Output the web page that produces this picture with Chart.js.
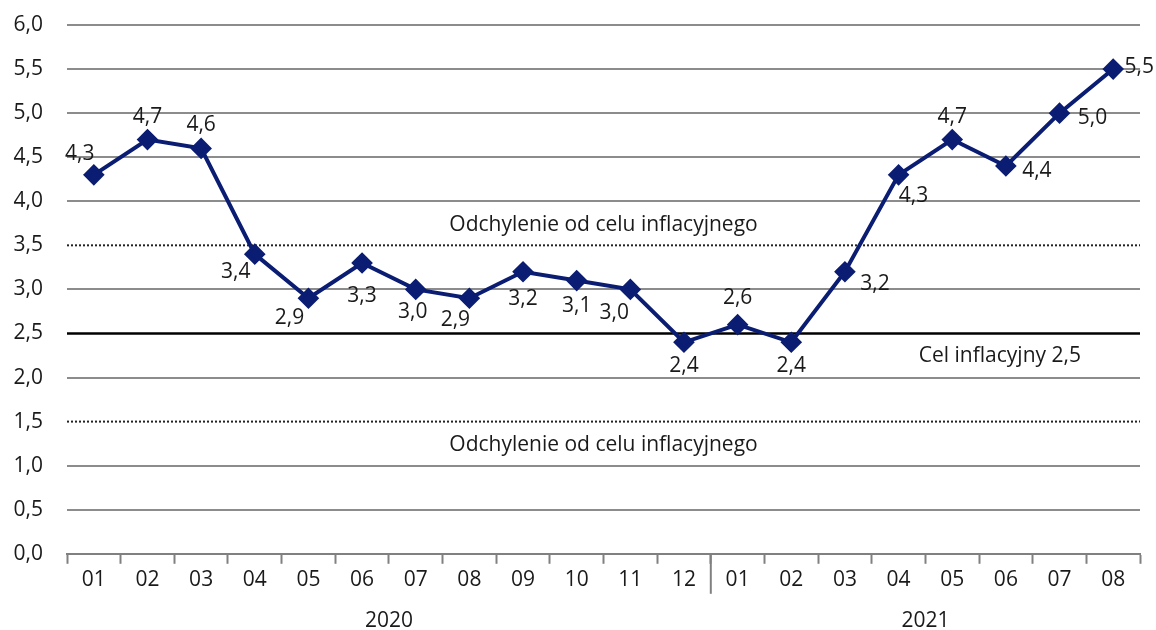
<!DOCTYPE html>
<html>
<head>
<meta charset="utf-8">
<script src="https://cdn.jsdelivr.net/npm/chart.js@4.4.1/dist/chart.umd.min.js"></script>
<style>
  html, body { margin: 0; padding: 0; background: #fff; }
  #wrap { width: 1156px; height: 630px; }
</style>
</head>
<body>
<div id="wrap"><canvas id="cpiChart" width="1156" height="630"></canvas></div>
<script>
// Dane: inflacja CPI r/r (%)
const months = ['01','02','03','04','05','06','07','08','09','10','11','12','01','02','03','04','05','06','07','08'];
const years = ['2020', '2021'];
const monthsPerYear = [12, 8];
const cpi = [4.3, 4.7, 4.6, 3.4, 2.9, 3.3, 3.0, 2.9, 3.2, 3.1, 3.0, 2.4, 2.6, 2.4, 3.2, 4.3, 4.7, 4.4, 5.0, 5.5];
const target = 2.5;
const bandLow = 1.5;
const bandHigh = 3.5;
const bandText = 'Odchylenie od celu inflacyjnego';
const targetText = 'Cel inflacyjny 2,5';

// przesuniecie etykiet wzgledem punktow (px)
const labelDx = [-14, 0, 0, -19, -19, 0, -3, -14, 0, 0, -16, 0, 0, 0, 30, 15, 0, 31, 33, 26];
const labelDy = [-21, -23, -23, 18, 20, 33, 23, 22, 27, 25, 24, 24, -27, 24, 12, 21, -23, 5, 5, -2];

const FONT = '"Open Sans", "Noto Sans", sans-serif';
const FSIZE = 21;
const TXT = '#1a1a1a';
const fmt = v => v.toFixed(1).replace('.', ',');

const overlay = {
    id: 'overlay',
    beforeDatasetsDraw(chart) {
        const { ctx, chartArea: a, scales: { x, y } } = chart;
        ctx.save();
        // linie odchylen (kropkowane) i cel (ciagla)
        [bandHigh, bandLow].forEach(v => {
            const py = y.getPixelForValue(v);
            ctx.beginPath();
            ctx.setLineDash([2, 2]);
            ctx.strokeStyle = '#222';
            ctx.lineWidth = 2;
            ctx.moveTo(a.left, py); ctx.lineTo(a.right, py);
            ctx.stroke();
        });
        ctx.setLineDash([]);
        const ty = y.getPixelForValue(target);
        ctx.beginPath();
        ctx.strokeStyle = '#000';
        ctx.lineWidth = 2.5;
        ctx.moveTo(a.left, ty); ctx.lineTo(a.right, ty);
        ctx.stroke();

        // opisy
        ctx.fillStyle = TXT;
        ctx.font = FSIZE + 'px ' + FONT;
        ctx.textAlign = 'center';
        ctx.textBaseline = 'middle';
        const mid = (a.left + a.right) / 2;
        ctx.fillText(bandText, mid, y.getPixelForValue(bandHigh) - 20);
        ctx.fillText(bandText, mid, y.getPixelForValue(bandLow) + 23);
        ctx.fillText(targetText, x.getPixelForValue(17) - 6, ty + 23);

        // separator lat + podpisy lat
        const step = x.getPixelForValue(1) - x.getPixelForValue(0);
        let start = 0;
        ctx.strokeStyle = '#808080';
        ctx.lineWidth = 2;
        years.forEach((yr, i) => {
            const left = x.getPixelForValue(start) - step / 2;
            const right = x.getPixelForValue(start + monthsPerYear[i] - 1) + step / 2;
            if (i > 0) {
                ctx.beginPath();
                ctx.moveTo(left, a.bottom); ctx.lineTo(left, a.bottom + 40);
                ctx.stroke();
            }
            ctx.fillText(yr, (left + right) / 2, a.bottom + 67);
            start += monthsPerYear[i];
        });
        ctx.restore();
    },
    afterDatasetsDraw(chart) {
        const { ctx } = chart;
        const meta = chart.getDatasetMeta(0);
        ctx.save();
        ctx.fillStyle = TXT;
        ctx.font = FSIZE + 'px ' + FONT;
        ctx.textAlign = 'center';
        ctx.textBaseline = 'middle';
        meta.data.forEach((pt, i) => {
            ctx.fillText(fmt(cpi[i]), pt.x + labelDx[i], pt.y + labelDy[i]);
        });
        ctx.restore();
    }
};

new Chart(document.getElementById('cpiChart').getContext('2d'), {
    type: 'line',
    data: {
        labels: months,
        datasets: [{
            data: cpi,
            borderColor: '#0a1d73',
            backgroundColor: '#0a1d73',
            borderWidth: 4,
            pointStyle: 'rectRot',
            pointRadius: 8,
            pointHoverRadius: 8,
            tension: 0,
            fill: false
        }]
    },
    options: {
        responsive: false,
        animation: false,
        layout: { padding: { top: 25, right: 16, bottom: 33, left: 0 } },
        plugins: { legend: { display: false }, tooltip: { enabled: false } },
        scales: {
            x: {
                offset: true,
                grid: {
                    offset: true,
                    drawOnChartArea: false,
                    drawTicks: true,
                    tickLength: 10,
                    tickWidth: 2,
                    tickColor: '#808080'
                },
                border: { color: '#808080', width: 2 },
                ticks: { color: TXT, font: { family: FONT, size: FSIZE }, padding: 4, maxRotation: 0, autoSkip: false }
            },
            y: {
                min: 0,
                max: 6,
                afterFit: s => { s.width = 67; s.paddingTop = 0; s.paddingBottom = 0; },
                ticks: {
                    stepSize: 0.5,
                    color: TXT,
                    font: { family: FONT, size: FSIZE },
                    padding: 24,
                    callback: v => fmt(v)
                },
                grid: {
                    drawTicks: false,
                    lineWidth: 2,
                    color: c => [bandLow, target, bandHigh].includes(c.tick.value) || c.tick.value === 0 ? 'rgba(0,0,0,0)' : '#8c8c8c'
                },
                border: { display: false }
            }
        }
    },
    plugins: [overlay]
});
</script>
</body>
</html>
